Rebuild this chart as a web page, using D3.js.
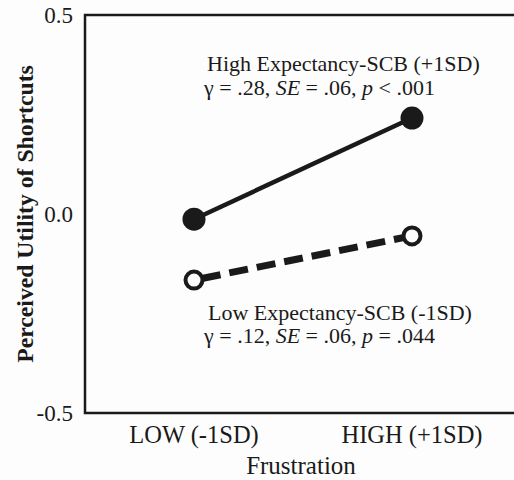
<!DOCTYPE html>
<html lang="en">
<head>
    <meta charset="UTF-8">
    <script src="https://cdn.jsdelivr.net/npm/d3@7"></script>
    <title>Perceived Utility of Shortcuts</title>
    <style>
        body { margin: 0; background: #fdfdfd; }
        text { font-family: "Liberation Serif", "Times New Roman", serif; fill: #1a1a1a; }
    </style>
</head>
<body>
    <svg width="514" height="480"></svg>
    <script>
        // data
        const categories = ['LOW (-1SD)', 'HIGH (+1SD)'];
        const highExp = [-0.013, 0.241];
        const lowExp = [-0.166, -0.055];
        const yTicks = [-0.5, 0.0, 0.5];

        const svg = d3.select('svg');
        const margin = { left: 85, top: 15, bottom: 413 };

        const x = d3.scalePoint()
            .domain(categories)
            .range([margin.left, 521])
            .padding(0.5);

        const y = d3.scaleLinear()
            .domain([-0.5, 0.5])
            .range([margin.bottom, margin.top]);

        // frame: left, top and bottom lines (no right side)
        svg.append('path')
            .attr('d', `M514,${y(0.5)}H${margin.left}V${y(-0.5)}H514`)
            .attr('fill', 'none')
            .attr('stroke', '#1a1a1a')
            .attr('stroke-width', 2.5);

        // y tick labels, plain hyphen for minus
        svg.append('g')
            .selectAll('text')
            .data(yTicks)
            .enter()
            .append('text')
            .attr('x', 73)
            .attr('y', d => y(d) + 8)
            .attr('text-anchor', 'end')
            .style('font-size', '23px')
            .text(d => d3.format('.1f')(d).replace('−', '-'));

        // x tick labels
        svg.append('g')
            .selectAll('text')
            .data(categories)
            .enter()
            .append('text')
            .attr('x', d => x(d))
            .attr('y', 443)
            .attr('text-anchor', 'middle')
            .style('font-size', '24.5px')
            .text(d => d);

        svg.append('text')
            .attr('x', 301)
            .attr('y', 474)
            .attr('text-anchor', 'middle')
            .style('font-size', '25px')
            .text('Frustration');

        svg.append('text')
            .attr('transform', `translate(33, ${y(0)}) rotate(-90)`)
            .attr('text-anchor', 'middle')
            .style('font-size', '23.7px')
            .style('font-weight', 'bold')
            .text('Perceived Utility of Shortcuts');

        const line = d3.line()
            .x((d, i) => x(categories[i]))
            .y(d => y(d));

        // low expectancy: dashed with open circles
        svg.append('path')
            .attr('d', line(lowExp))
            .attr('fill', 'none')
            .attr('stroke', '#1a1a1a')
            .attr('stroke-width', 7)
            .attr('stroke-dasharray', '19,9')
            .attr('stroke-dashoffset', -8);

        svg.append('g')
            .selectAll('circle')
            .data(lowExp)
            .enter()
            .append('circle')
            .attr('cx', (d, i) => x(categories[i]))
            .attr('cy', d => y(d))
            .attr('r', 8.5)
            .attr('fill', '#fdfdfd')
            .attr('stroke', '#1a1a1a')
            .attr('stroke-width', 4);

        // high expectancy: solid with filled circles
        svg.append('path')
            .attr('d', line(highExp))
            .attr('fill', 'none')
            .attr('stroke', '#1a1a1a')
            .attr('stroke-width', 4.5);

        svg.append('g')
            .selectAll('circle')
            .data(highExp)
            .enter()
            .append('circle')
            .attr('cx', (d, i) => x(categories[i]))
            .attr('cy', d => y(d))
            .attr('r', 11.5)
            .attr('fill', '#1a1a1a');

        // annotations
        const notes = [
            { x: 207, y: 71, parts: [['High Expectancy-SCB (+1SD)']] },
            { x: 204, y: 95, parts: [['γ = .28, '], ['SE', 1], [' = .06, '], ['p', 1], [' < .001']] },
            { x: 208, y: 320, parts: [['Low Expectancy-SCB (-1SD)']] },
            { x: 204, y: 343, parts: [['γ = .12, '], ['SE', 1], [' = .06, '], ['p', 1], [' = .044']] }
        ];
        notes.forEach(n => {
            const t = svg.append('text')
                .attr('x', n.x)
                .attr('y', n.y)
                .style('font-size', '22px');
            n.parts.forEach(p => {
                t.append('tspan')
                    .style('font-style', p[1] ? 'italic' : 'normal')
                    .text(p[0]);
            });
        });
    </script>
</body>
</html>
